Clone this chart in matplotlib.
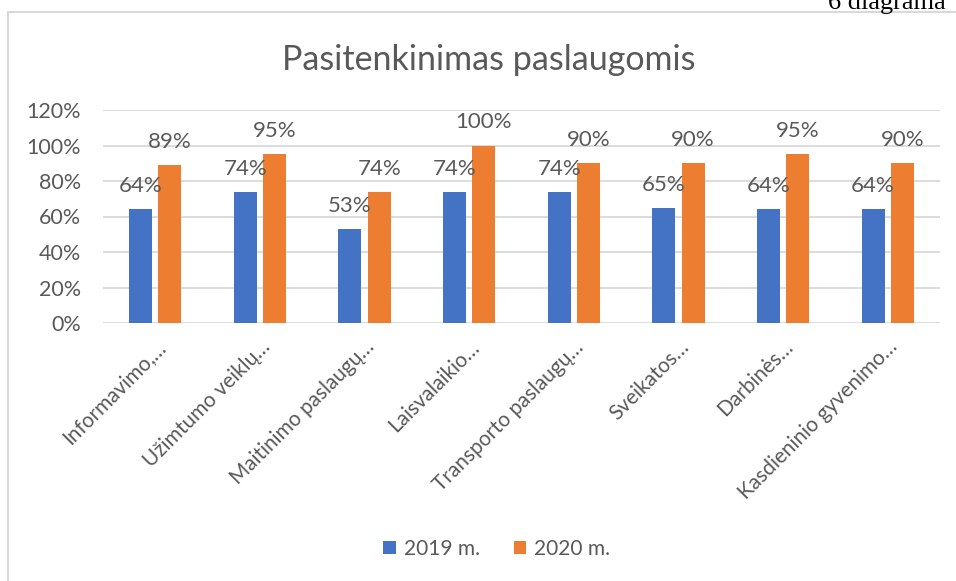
import matplotlib
matplotlib.use("Agg")
import matplotlib.pyplot as plt
import matplotlib.transforms as mtransforms
from matplotlib.patches import Rectangle
import numpy as np

categories = ["Informavimo,…", "Užimtumo veiklų…", "Maitinimo paslaugų…", "Laisvalaikio…",
              "Transporto paslaugų…", "Sveikatos…", "Darbinės…", "Kasdieninio gyvenimo…"]
vals_2019 = [64, 74, 53, 74, 74, 65, 64, 64]
vals_2020 = [89, 95, 74, 100, 90, 90, 95, 90]
series_names = ["2019 m.", "2020 m."]
yticks = [0, 20, 40, 60, 80, 100, 120]

plt.rcParams['font.family'] = ['Lato', 'DejaVu Sans']
txt = '#595959'

fig = plt.figure(figsize=(9.56, 5.81), dpi=100)

# chart frame (cut off at right/bottom like the screenshot)
fig.patches.append(Rectangle((8/956, -0.1), 1.0, 1 - 12/581 + 0.1, transform=fig.transFigure,
                             fill=False, edgecolor='#D9D9D9', linewidth=1.5))
fig.text(828/956, 1 - 9/581, "6 diagrama", family='Liberation Serif', fontsize=19,
         ha='left', va='baseline', color='black')

ax = fig.add_axes([103/956, 1 - 323/581, 837/956, 213/581])
x = np.arange(len(categories))
w = 0.22
gap = 0.03
b1 = ax.bar(x - w/2 - gap, vals_2019, w, color='#4472C4', label=series_names[0], zorder=3)
b2 = ax.bar(x + w/2 + gap, vals_2020, w, color='#ED7D31', label=series_names[1], zorder=3)

for bars in (b1, b2):
    for r in bars:
        ax.annotate(f"{int(r.get_height())}%", (r.get_x() + r.get_width()/2, r.get_height()),
                    xytext=(0, 13), textcoords='offset pixels', ha='center', va='bottom',
                    fontsize=16, color=txt)

ax.set_xlim(-0.5, len(categories) - 0.5)
ax.set_ylim(0, 120)
ax.set_yticks(yticks)
ax.set_yticklabels([f"{t}%" for t in yticks], fontsize=15.5, color=txt)
ax.set_xticks(x)
ax.set_xticklabels(categories, rotation=45, ha='right', rotation_mode='anchor',
                   fontsize=15, color=txt)
shift = mtransforms.ScaledTranslation(8/100, 0, fig.dpi_scale_trans)
for lbl in ax.get_xticklabels():
    lbl.set_transform(lbl.get_transform() + shift)
ax.tick_params(length=0)
ax.tick_params(axis='y', pad=16)
ax.tick_params(axis='x', pad=10)
ax.yaxis.grid(True, color='#D9D9D9', linewidth=1.3, zorder=0)
for s in ax.spines.values():
    s.set_visible(False)

fig.suptitle("Pasitenkinimas paslaugomis", x=489/956, y=1 - 60/581, va='center',
             fontsize=24.5, color=txt)

fig.legend(loc='center', bbox_to_anchor=(497/956, 1 - 549/581), ncol=2, frameon=False,
           fontsize=15, labelcolor=txt, handlelength=0.6, handleheight=0.6,
           handletextpad=0.4, columnspacing=1.6)

fig.savefig("out.png", dpi=100)
